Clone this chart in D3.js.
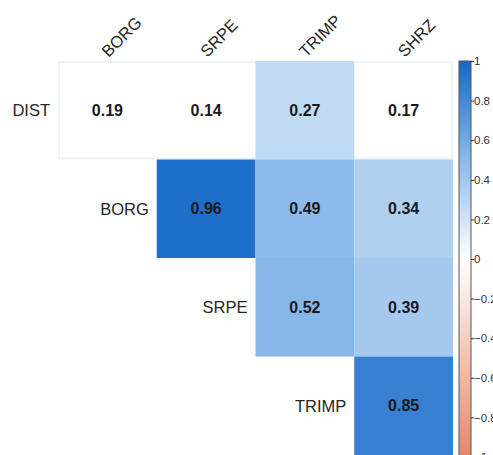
<!DOCTYPE html>
<html>
<head>
<meta charset="utf-8">
<script src="https://cdn.jsdelivr.net/npm/d3@7"></script>
<style>
  body { margin: 0; background: #fff; }
  svg text { font-family: "Liberation Sans", Arial, sans-serif; }
</style>
</head>
<body>
<svg width="493" height="455"></svg>
<script>
(() => {
  const rowNames = ['DIST', 'BORG', 'SRPE', 'TRIMP'];
  const colNames = ['BORG', 'SRPE', 'TRIMP', 'SHRZ'];
  // upper triangle, row by row (row i starts at column i)
  const corrValues = [
    [0.19, 0.14, 0.27, 0.17],
    [0.96, 0.49, 0.34],
    [0.52, 0.39],
    [0.85]
  ];
  // cells left blank (not significant)
  const blankCells = [
    [true, true, false, true],
    [false, false, false],
    [false, false],
    [false]
  ];
  const legendTicks = [1, 0.8, 0.6, 0.4, 0.2, 0, -0.2, -0.4, -0.6, -0.8, -1];

  const svg = d3.select('svg');

  const x = d3.scaleBand().domain(colNames).range([58, 453]);
  const y = d3.scaleBand().domain(rowNames).range([61, 455]);

  const color = d3.scaleLinear()
    .domain([-1, -0.5, 0, 0.5, 1])
    .range(['#e3876b', '#f3c3b2', '#ffffff', '#8bbae9', '#1468c8']);

  const cells = [];
  corrValues.forEach((vals, i) => {
    vals.forEach((v, k) => {
      cells.push({ row: rowNames[i], col: colNames[i + k], value: v, blank: blankCells[i][k] });
    });
  });

  const g = svg.append('g');

  // faint outline round each row that has blank cells
  g.selectAll('.row-edge')
    .data(corrValues.map((vals, i) => i).filter(i => blankCells[i].some(b => b)))
    .enter().append('rect')
      .attr('x', i => x(colNames[i]) + 1)
      .attr('y', i => y(rowNames[i]) + 1)
      .attr('width', i => x.bandwidth() * corrValues[i].length - 2)
      .attr('height', y.bandwidth() - 2)
      .attr('fill', '#ffffff')
      .attr('stroke', '#edf3fc')
      .attr('stroke-width', 2);

  g.selectAll('.cell')
    .data(cells.filter(d => !d.blank))
    .enter().append('rect')
      .attr('class', 'cell')
      .attr('x', d => x(d.col))
      .attr('y', d => y(d.row))
      .attr('width', x.bandwidth())
      .attr('height', y.bandwidth())
      .attr('fill', d => color(d.value));

  g.selectAll('.val')
    .data(cells)
    .enter().append('text')
      .attr('class', 'val')
      .attr('x', d => x(d.col) + x.bandwidth() / 2)
      .attr('y', d => y(d.row) + y.bandwidth() / 2)
      .attr('dy', '0.35em')
      .attr('text-anchor', 'middle')
      .style('font-size', '16px')
      .style('font-weight', 'bold')
      .style('fill', '#1a1a1a')
      .text(d => d.value.toFixed(2));

  // row labels, right aligned before each row's first cell
  g.selectAll('.row-label')
    .data(rowNames)
    .enter().append('text')
      .attr('x', (d, i) => x(colNames[i]) - 8)
      .attr('y', d => y(d) + y.bandwidth() / 2)
      .attr('dy', '0.35em')
      .attr('text-anchor', 'end')
      .style('font-size', '16.5px')
      .style('fill', '#262626')
      .text(d => d);

  // column labels rotated 45 degrees
  g.selectAll('.col-label')
    .data(colNames)
    .enter().append('text')
      .attr('transform', d => 'translate(' + (x(d) + x.bandwidth() / 2 + 1) + ',58) rotate(-45)')
      .attr('text-anchor', 'start')
      .style('font-size', '16.5px')
      .style('fill', '#262626')
      .text(d => d);

  // colour legend
  const legendY = d3.scaleLinear().domain([1, -1]).range([61, 457]);
  const defs = svg.append('defs');
  const grad = defs.append('linearGradient')
    .attr('id', 'legendGrad')
    .attr('x1', 0).attr('x2', 0).attr('y1', 0).attr('y2', 1);
  d3.range(0, 1.0001, 0.05).forEach(t => {
    grad.append('stop')
      .attr('offset', t)
      .attr('stop-color', color(1 - 2 * t));
  });

  const legend = svg.append('g');
  legend.append('rect')
    .attr('x', 459)
    .attr('y', legendY(1))
    .attr('width', 12)
    .attr('height', legendY(-1) - legendY(1))
    .attr('fill', 'url(#legendGrad)')
    .attr('stroke', '#555')
    .attr('stroke-width', 1);

  legend.append('g')
    .attr('transform', 'translate(471,0)')
    .call(d3.axisRight(legendY).tickValues(legendTicks).tickSize(3).tickFormat(d3.format('')))
    .call(a => a.select('.domain').remove())
    .call(a => a.selectAll('line').attr('stroke', '#333'))
    .call(a => a.selectAll('text')
      .attr('x', 3)
      .style('font-size', '11.5px')
      .style('font-family', '"Liberation Sans", Arial, sans-serif')
      .style('fill', '#333'));
})();
</script>
</body>
</html>
